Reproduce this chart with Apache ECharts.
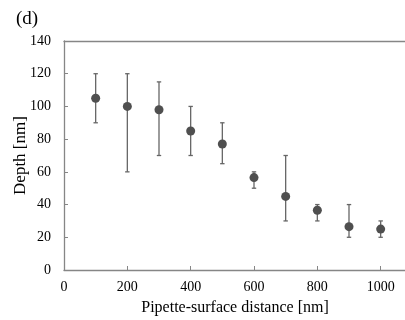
<!DOCTYPE html>
<html><head><meta charset="utf-8">
<script src="https://cdn.jsdelivr.net/npm/echarts@6/dist/echarts.min.js"></script>
<style>html,body{margin:0;padding:0;background:#fff}#c{width:405px;height:320px}</style>
</head><body><div id="c"></div>
<script>
var distances = [100, 200, 300, 400, 500, 600, 700, 800, 900, 1000];
var depthMean = [105, 100, 98, 85, 77, 56.5, 45, 36.5, 26.5, 25];
var depthLow  = [90, 60, 70, 70, 65, 50, 30, 30, 20, 20];
var depthHigh = [120, 120, 115, 100, 90, 60, 70, 40, 40, 30];
var xTicks = [0, 200, 400, 600, 800, 1000];
var yTicks = [0, 20, 40, 60, 80, 100, 120, 140];

var font = 'Liberation Serif';
var axisColor = '#868686';
var chart = echarts.init(document.getElementById('c'), null, {renderer: 'canvas'});
var errData = distances.map(function (d, i) { return [d, depthLow[i], depthHigh[i]]; });
var ptData = distances.map(function (d, i) { return [d, depthMean[i]]; });
chart.setOption({
  animation: false,
  title: {text: '(d)', left: 11, top: 5, textStyle: {fontFamily: font, fontSize: 19, fontWeight: 'normal', color: '#000'}},
  grid: {left: 64, right: -1, top: 41, bottom: 50, containLabel: false, outerBoundsMode: 'none'},
  xAxis: [{
    type: 'value', min: 0, max: 1080, interval: 200,
    name: 'Pipette-surface distance [nm]', nameLocation: 'middle', nameGap: 30, nameMoveOverlap: false,
    nameTextStyle: {fontFamily: font, fontSize: 16, color: '#000'},
    axisLine: {lineStyle: {color: axisColor, width: 1.3}},
    axisTick: {inside: true, length: 4, lineStyle: {color: axisColor}},
    axisLabel: {fontFamily: font, fontSize: 14, color: '#000', margin: 10,
      formatter: function (v) { return xTicks.indexOf(v) >= 0 ? String(v) : ''; }},
    splitLine: {show: false}
  }, {
    type: 'value', position: 'top', min: 0, max: 1080,
    axisLine: {show: true, lineStyle: {color: axisColor, width: 1.3}},
    axisTick: {show: false}, axisLabel: {show: false}, splitLine: {show: false}
  }],
  yAxis: {
    type: 'value', min: 0, max: 140, interval: 20,
    name: 'Depth [nm]', nameLocation: 'middle', nameGap: 35, nameMoveOverlap: false,
    nameTextStyle: {fontFamily: font, fontSize: 17, color: '#000'},
    axisLine: {show: true, lineStyle: {color: axisColor, width: 1.3}},
    axisTick: {show: true, inside: true, length: 4, lineStyle: {color: axisColor}},
    axisLabel: {fontFamily: font, fontSize: 14, color: '#000', margin: 13,
      formatter: function (v) { return yTicks.indexOf(v) >= 0 ? String(v) : ''; }},
    splitLine: {show: false}
  },
  series: [{
    type: 'custom',
    data: errData,
    renderItem: function (params, api) {
      var x = api.value(0);
      var lo = api.coord([x, api.value(1)]);
      var hi = api.coord([x, api.value(2)]);
      var w = 2.2;
      var st = {stroke: '#666666', lineWidth: 1.3, fill: null};
      return {type: 'group', children: [
        {type: 'line', shape: {x1: lo[0], y1: lo[1], x2: hi[0], y2: hi[1]}, style: st},
        {type: 'line', shape: {x1: lo[0] - w, y1: lo[1], x2: lo[0] + w, y2: lo[1]}, style: st},
        {type: 'line', shape: {x1: hi[0] - w, y1: hi[1], x2: hi[0] + w, y2: hi[1]}, style: st}
      ]};
    },
    z: 1
  }, {
    type: 'scatter', data: ptData, symbol: 'circle', symbolSize: 9,
    itemStyle: {color: '#4f4f4f', opacity: 1}, z: 2
  }]
});
</script></body></html>
